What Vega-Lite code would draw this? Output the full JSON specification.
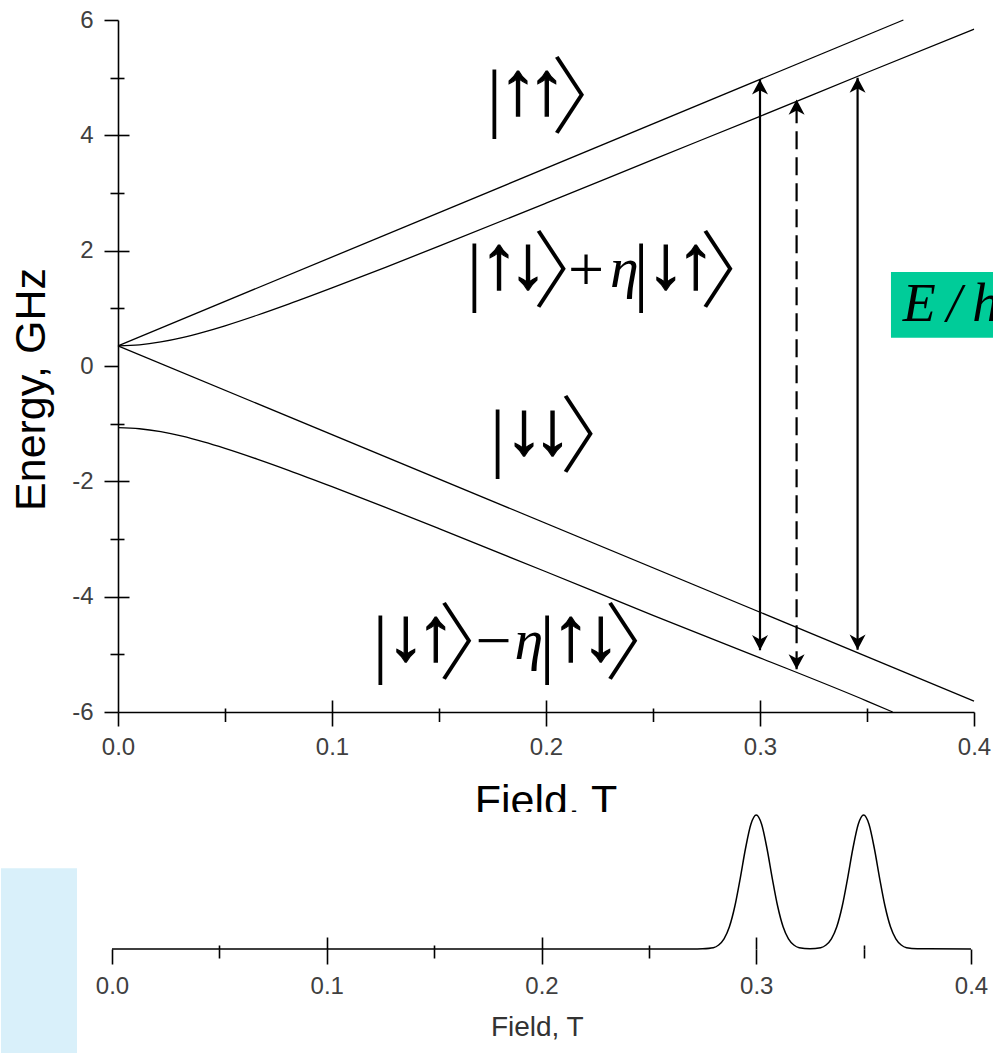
{
  "$schema": "https://vega.github.io/schema/vega-lite/v6.json",
  "background": "white",
  "padding": {"left": 0, "top": 8, "right": 0, "bottom": 0},
  "spacing": 0,
  "config": {
    "view": {"stroke": null},
    "axis": {"grid": false, "domainColor": "black", "tickColor": "black", "labelFont": "Liberation Sans", "titleFont": "Liberation Sans", "domainWidth": 1.6, "tickWidth": 1.6}
  },
  "datasets": {
    "levels": [
      {"level": "uu", "B": 0, "E": 0.35},
      {"level": "uu", "B": 0.367, "E": 6.0},
      {"level": "ud", "B": 0, "E": 0.35},
      {"level": "ud", "B": 0.01, "E": 0.367},
      {"level": "ud", "B": 0.02, "E": 0.417},
      {"level": "ud", "B": 0.03, "E": 0.492},
      {"level": "ud", "B": 0.04, "E": 0.588},
      {"level": "ud", "B": 0.05, "E": 0.697},
      {"level": "ud", "B": 0.065, "E": 0.88},
      {"level": "ud", "B": 0.08, "E": 1.077},
      {"level": "ud", "B": 0.1, "E": 1.354},
      {"level": "ud", "B": 0.125, "E": 1.712},
      {"level": "ud", "B": 0.15, "E": 2.078},
      {"level": "ud", "B": 0.2, "E": 2.824},
      {"level": "ud", "B": 0.25, "E": 3.579},
      {"level": "ud", "B": 0.3, "E": 4.33},
      {"level": "ud", "B": 0.35, "E": 5.09},
      {"level": "ud", "B": 0.4, "E": 5.84},
      {"level": "dd", "B": 0, "E": 0.35},
      {"level": "dd", "B": 0.4, "E": -5.81},
      {"level": "du", "B": 0, "E": -1.07},
      {"level": "du", "B": 0.01, "E": -1.088},
      {"level": "du", "B": 0.02, "E": -1.139},
      {"level": "du", "B": 0.03, "E": -1.217},
      {"level": "du", "B": 0.04, "E": -1.316},
      {"level": "du", "B": 0.05, "E": -1.428},
      {"level": "du", "B": 0.065, "E": -1.614},
      {"level": "du", "B": 0.08, "E": -1.813},
      {"level": "du", "B": 0.1, "E": -2.092},
      {"level": "du", "B": 0.125, "E": -2.452},
      {"level": "du", "B": 0.15, "E": -2.82},
      {"level": "du", "B": 0.2, "E": -3.568},
      {"level": "du", "B": 0.25, "E": -4.324},
      {"level": "du", "B": 0.3, "E": -5.06},
      {"level": "du", "B": 0.35, "E": -5.81},
      {"level": "du", "B": 0.362, "E": -6.0}
    ],
    "arrows": [
      {"B": 0.3, "lo": -4.93, "hi": 4.97, "style": "solid"},
      {"B": 0.3171, "lo": -5.26, "hi": 4.62, "style": "dashed"},
      {"B": 0.3456, "lo": -4.92, "hi": 5.0, "style": "solid"}
    ],
    "peaks": [
      {"B": 0, "I": 0},
      {"B": 0.27, "I": 0},
      {"B": 0.275, "I": 0.002},
      {"B": 0.28, "I": 0.01},
      {"B": 0.2825, "I": 0.03},
      {"B": 0.285, "I": 0.076},
      {"B": 0.2875, "I": 0.166},
      {"B": 0.29, "I": 0.317},
      {"B": 0.2925, "I": 0.524},
      {"B": 0.295, "I": 0.75},
      {"B": 0.2975, "I": 0.931},
      {"B": 0.3, "I": 1},
      {"B": 0.3025, "I": 0.931},
      {"B": 0.305, "I": 0.75},
      {"B": 0.3075, "I": 0.524},
      {"B": 0.31, "I": 0.317},
      {"B": 0.3125, "I": 0.166},
      {"B": 0.315, "I": 0.076},
      {"B": 0.3175, "I": 0.03},
      {"B": 0.32, "I": 0.01},
      {"B": 0.325, "I": 0.002},
      {"B": 0.33, "I": 0.01},
      {"B": 0.3325, "I": 0.03},
      {"B": 0.335, "I": 0.076},
      {"B": 0.3375, "I": 0.166},
      {"B": 0.34, "I": 0.317},
      {"B": 0.3425, "I": 0.524},
      {"B": 0.345, "I": 0.75},
      {"B": 0.3475, "I": 0.931},
      {"B": 0.35, "I": 1},
      {"B": 0.3525, "I": 0.931},
      {"B": 0.355, "I": 0.75},
      {"B": 0.3575, "I": 0.524},
      {"B": 0.36, "I": 0.317},
      {"B": 0.3625, "I": 0.166},
      {"B": 0.365, "I": 0.076},
      {"B": 0.3675, "I": 0.03},
      {"B": 0.37, "I": 0.01},
      {"B": 0.375, "I": 0.002},
      {"B": 0.4, "I": 0}
    ],
    "bars": [
      {"B": 0.17584, "E": 4.605, "t": "|"},
      {"B": 0.1665, "E": 1.589, "t": "|"},
      {"B": 0.24439, "E": 1.589, "t": "|"},
      {"B": 0.17743, "E": -1.284, "t": "|"},
      {"B": 0.12257, "E": -4.858, "t": "|"},
      {"B": 0.20047, "E": -4.858, "t": "|"}
    ],
    "brackets": [
      {"B": 0.22188, "E": 4.58, "t": "〉"},
      {"B": 0.21328, "E": 1.564, "t": "〉"},
      {"B": 0.29118, "E": 1.564, "t": "〉"},
      {"B": 0.2259, "E": -1.309, "t": "〉"},
      {"B": 0.16921, "E": -4.883, "t": "〉"},
      {"B": 0.24678, "E": -4.883, "t": "〉"}
    ],
    "spins": [
      {"B": 0.18706, "E": 4.761, "t": "↑"},
      {"B": 0.20047, "E": 4.761, "t": "↑"},
      {"B": 0.17818, "E": 1.745, "t": "↑"},
      {"B": 0.19173, "E": 1.745, "t": "↓"},
      {"B": 0.25607, "E": 1.745, "t": "↓"},
      {"B": 0.27009, "E": 1.745, "t": "↑"},
      {"B": 0.18986, "E": -1.127, "t": "↓"},
      {"B": 0.20313, "E": -1.127, "t": "↓"},
      {"B": 0.13458, "E": -4.702, "t": "↓"},
      {"B": 0.1486, "E": -4.702, "t": "↑"},
      {"B": 0.21168, "E": -4.702, "t": "↑"},
      {"B": 0.2257, "E": -4.702, "t": "↓"}
    ],
    "signs": [
      {"B": 0.21869, "E": 1.624, "t": "+"},
      {"B": 0.17547, "E": -4.81, "t": "−"}
    ],
    "etas": [
      {"B": 0.23659, "E": 1.364, "t": "η"},
      {"B": 0.19206, "E": -5.083, "t": "η"}
    ],
    "cuttitle": [
      {"B": 0.2, "E": -7.786, "t": "Field, T"}
    ]
  },
  "vconcat": [
    {
      "width": 856,
      "height": 792,
      "resolve": {"axis": {"x": "independent", "y": "independent"}},
      "layer": [
        {
          "data": {"name": "levels"},
          "mark": {"type": "line", "color": "black", "strokeWidth": 1.3, "interpolate": "monotone"},
          "encoding": {
            "x": {
              "field": "B", "type": "quantitative",
              "scale": {"domain": [0, 0.4], "nice": false, "zero": false},
              "axis": {
                "orient": "bottom", "offset": -100,
                "values": [0, 0.05, 0.1, 0.15, 0.2, 0.25, 0.3, 0.35, 0.4],
                "labelExpr": "abs(datum.value*10 - round(datum.value*10)) < 0.001 ? format(datum.value, '.1f') : ''",
                "tickSize": {"condition": {"test": "abs(datum.value*10 - round(datum.value*10)) < 0.001", "value": 14}, "value": 9.5},
                "labelPadding": 9.5, "labelFontSize": 24, "labelColor": "#404040",
                "labelFlush": false, "labelOverlap": false,
                "title": null
              }
            },
            "y": {
              "field": "E", "type": "quantitative",
              "scale": {"domain": [-6, 6], "range": [692, 0], "nice": false, "zero": false},
              "axis": {
                "orient": "left",
                "values": [-6, -5, -4, -3, -2, -1, 0, 1, 2, 3, 4, 5, 6],
                "labelExpr": "datum.value % 2 == 0 ? (datum.value < 0 ? '-' + abs(datum.value) : '' + datum.value) : ''",
                "tickSize": {"condition": {"test": "datum.value % 2 == 0", "value": 14}, "value": 8},
                "labelPadding": 11, "labelFontSize": 24, "labelColor": "#404040",
                "labelFlush": false, "labelOverlap": false,
                "title": "Energy, GHz", "titleFontSize": 43, "titleFontWeight": "normal", "titleColor": "black",
                "titleX": -74, "titleY": 369, "titleAngle": 270, "titleBaseline": "alphabetic", "titleAlign": "center"
              }
            },
            "detail": {"field": "level", "type": "nominal"}
          }
        },
        {
          "data": {"name": "arrows"},
          "mark": {"type": "rule", "color": "black", "strokeWidth": 2.2},
          "encoding": {
            "x": {
              "field": "B", "type": "quantitative",
              "scale": {"domain": [0, 0.4], "nice": false, "zero": false},
              "axis": {
                "orient": "bottom", "offset": -100, "values": [0.05, 0.1, 0.15, 0.2, 0.25, 0.3, 0.35],
                "labels": false, "domain": false, "title": null,
                "tickSize": {"condition": {"test": "abs(datum.value*10 - round(datum.value*10)) < 0.001", "value": -12}, "value": -4}
              }
            },
            "y": {
              "field": "lo", "type": "quantitative",
              "scale": {"domain": [-6, 6], "range": [692, 0], "nice": false, "zero": false},
              "axis": {
                "orient": "left", "values": [-5, -4, -3, -2, -1, 1, 2, 3, 4, 5],
                "labels": false, "domain": false, "title": null,
                "tickSize": {"condition": {"test": "datum.value % 2 == 0", "value": -11}, "value": -6}
              }
            },
            "y2": {"field": "hi"},
            "strokeDash": {"field": "style", "type": "nominal", "scale": {"domain": ["solid", "dashed"], "range": [[1, 0], [18, 8]]}, "legend": null}
          }
        },
        {
          "data": {"name": "arrows"},
          "mark": {"type": "point", "shape": "M0,0 L-1,1.9 L0,1.35 L1,1.9 Z", "filled": true, "size": 256, "color": "black", "opacity": 1, "strokeWidth": 0},
          "encoding": {
            "x": {"field": "B", "type": "quantitative", "scale": {"domain": [0, 0.4], "nice": false, "zero": false}, "axis": null},
            "y": {"field": "hi", "type": "quantitative", "scale": {"domain": [-6, 6], "range": [692, 0], "nice": false, "zero": false}, "axis": null}
          }
        },
        {
          "data": {"name": "arrows"},
          "mark": {"type": "point", "shape": "M0,0 L-1,-1.9 L0,-1.35 L1,-1.9 Z", "filled": true, "size": 256, "color": "black", "opacity": 1, "strokeWidth": 0},
          "encoding": {
            "x": {"field": "B", "type": "quantitative", "scale": {"domain": [0, 0.4], "nice": false, "zero": false}, "axis": null},
            "y": {"field": "lo", "type": "quantitative", "scale": {"domain": [-6, 6], "range": [692, 0], "nice": false, "zero": false}, "axis": null}
          }
        },
        {
          "data": {"values": [{"B1": 0.3612, "B2": 0.45, "E1": 1.629, "E2": 0.492}]},
          "mark": {"type": "rect", "color": "#00cc99"},
          "encoding": {
            "x": {"field": "B1", "type": "quantitative", "scale": {"domain": [0, 0.4], "nice": false, "zero": false}, "axis": null},
            "x2": {"field": "B2"},
            "y": {"field": "E1", "type": "quantitative", "scale": {"domain": [-6, 6], "range": [692, 0], "nice": false, "zero": false}, "axis": null},
            "y2": {"field": "E2"}
          }
        },
        {
          "data": {"values": [{"B": 0.3667, "E": 1.06, "t": "E\u2009/\u2009h"}]},
          "mark": {"type": "text", "font": "Liberation Serif", "fontStyle": "italic", "fontSize": 54, "align": "left", "baseline": "middle", "color": "black"},
          "encoding": {
            "x": {"field": "B", "type": "quantitative", "scale": {"domain": [0, 0.4], "nice": false, "zero": false}, "axis": null},
            "y": {"field": "E", "type": "quantitative", "scale": {"domain": [-6, 6], "range": [692, 0], "nice": false, "zero": false}, "axis": null},
            "text": {"field": "t"}
          }
        },
        {
          "data": {"name": "bars"},
          "mark": {"type": "text", "font": "Liberation Serif", "fontSize": 76, "align": "center", "baseline": "middle", "color": "black"},
          "encoding": {
            "x": {"field": "B", "type": "quantitative", "scale": {"domain": [0, 0.4], "nice": false, "zero": false}, "axis": null},
            "y": {"field": "E", "type": "quantitative", "scale": {"domain": [-6, 6], "range": [692, 0], "nice": false, "zero": false}, "axis": null},
            "text": {"field": "t"}
          }
        },
        {
          "data": {"name": "brackets"},
          "mark": {"type": "text", "font": "Noto Sans CJK JP", "fontWeight": 300, "fontSize": 84, "align": "center", "baseline": "middle", "color": "black"},
          "encoding": {
            "x": {"field": "B", "type": "quantitative", "scale": {"domain": [0, 0.4], "nice": false, "zero": false}, "axis": null},
            "y": {"field": "E", "type": "quantitative", "scale": {"domain": [-6, 6], "range": [692, 0], "nice": false, "zero": false}, "axis": null},
            "text": {"field": "t"}
          }
        },
        {
          "data": {"name": "spins"},
          "mark": {"type": "text", "font": "Liberation Serif", "fontSize": 76, "align": "center", "baseline": "middle", "color": "black", "stroke": "black", "strokeWidth": 1.2},
          "encoding": {
            "x": {"field": "B", "type": "quantitative", "scale": {"domain": [0, 0.4], "nice": false, "zero": false}, "axis": null},
            "y": {"field": "E", "type": "quantitative", "scale": {"domain": [-6, 6], "range": [692, 0], "nice": false, "zero": false}, "axis": null},
            "text": {"field": "t"}
          }
        },
        {
          "data": {"name": "signs"},
          "mark": {"type": "text", "font": "Liberation Serif", "fontSize": 64, "align": "center", "baseline": "middle", "color": "black"},
          "encoding": {
            "x": {"field": "B", "type": "quantitative", "scale": {"domain": [0, 0.4], "nice": false, "zero": false}, "axis": null},
            "y": {"field": "E", "type": "quantitative", "scale": {"domain": [-6, 6], "range": [692, 0], "nice": false, "zero": false}, "axis": null},
            "text": {"field": "t"}
          }
        },
        {
          "data": {"name": "etas"},
          "mark": {"type": "text", "font": "Liberation Serif", "fontStyle": "italic", "fontSize": 58, "align": "center", "baseline": "alphabetic", "color": "black"},
          "encoding": {
            "x": {"field": "B", "type": "quantitative", "scale": {"domain": [0, 0.4], "nice": false, "zero": false}, "axis": null},
            "y": {"field": "E", "type": "quantitative", "scale": {"domain": [-6, 6], "range": [692, 0], "nice": false, "zero": false}, "axis": null},
            "text": {"field": "t"}
          }
        },
        {
          "data": {"name": "cuttitle"},
          "mark": {"type": "text", "font": "Liberation Sans", "fontSize": 43, "align": "center", "baseline": "alphabetic", "color": "black", "clip": true},
          "encoding": {
            "x": {"field": "B", "type": "quantitative", "scale": {"domain": [0, 0.4], "nice": false, "zero": false}, "axis": null},
            "y": {"field": "E", "type": "quantitative", "scale": {"domain": [-6, 6], "range": [692, 0], "nice": false, "zero": false}, "axis": null},
            "text": {"field": "t"}
          }
        }
      ]
    },
    {
      "width": 856,
      "height": 134,
      "view": {"fill": "white", "stroke": null},
      "resolve": {"axis": {"x": "independent"}},
      "layer": [
        {
          "data": {"values": [{"B1": -0.0517, "B2": -0.0163, "I1": 0.602, "I2": -0.85}]},
          "mark": {"type": "rect", "color": "#d9f0fa"},
          "encoding": {
            "x": {
              "field": "B1", "type": "quantitative",
              "scale": {"domain": [0, 0.4], "range": [-6, 853], "nice": false, "zero": false},
              "axis": {
                "orient": "bottom", "values": [0.05, 0.1, 0.15, 0.2, 0.25, 0.3, 0.35],
                "labels": false, "domain": false, "title": null,
                "tickSize": {"condition": {"test": "abs(datum.value*10 - round(datum.value*10)) < 0.001", "value": -12}, "value": -4}
              }
            },
            "x2": {"field": "B2"},
            "y": {"field": "I1", "type": "quantitative", "scale": {"domain": [0, 1], "nice": false, "zero": false}, "axis": null},
            "y2": {"field": "I2"}
          }
        },
        {
          "data": {"name": "peaks"},
          "mark": {"type": "line", "color": "black", "strokeWidth": 1.5, "interpolate": "monotone"},
          "encoding": {
            "x": {
              "field": "B", "type": "quantitative",
              "scale": {"domain": [0, 0.4], "range": [-6, 853], "nice": false, "zero": false},
              "axis": {
                "orient": "bottom",
                "values": [0, 0.05, 0.1, 0.15, 0.2, 0.25, 0.3, 0.35, 0.4],
                "labelExpr": "abs(datum.value*10 - round(datum.value*10)) < 0.001 ? format(datum.value, '.1f') : ''",
                "tickSize": {"condition": {"test": "abs(datum.value*10 - round(datum.value*10)) < 0.001", "value": 15}, "value": 9},
                "domain": false,
                "labelPadding": 10, "labelFontSize": 24, "labelColor": "#404040",
                "labelFlush": false, "labelOverlap": false,
                "title": "Field, T", "titleFontSize": 28, "titleFontWeight": "normal", "titleColor": "#333333",
                "titleX": 418.8, "titleY": 86.6, "titleBaseline": "alphabetic", "titleAlign": "center"
              }
            },
            "y": {"field": "I", "type": "quantitative", "scale": {"domain": [0, 1], "nice": false, "zero": false}, "axis": null}
          }
        }
      ]
    }
  ]
}
